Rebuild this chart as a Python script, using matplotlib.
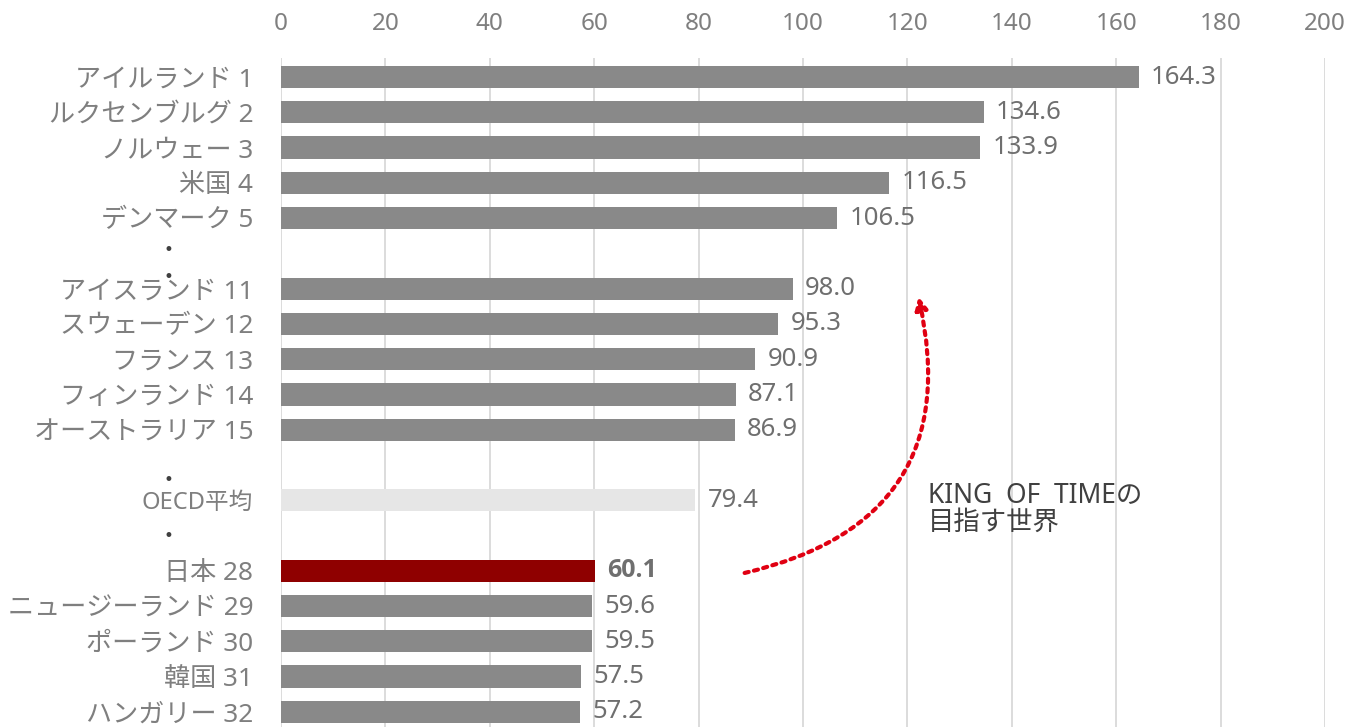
import matplotlib.pyplot as plt
from matplotlib.patches import FancyArrowPatch
import matplotlib.transforms as mtransforms

plt.rcParams['font.family'] = ['Noto Sans', 'Noto Sans CJK JP', 'DejaVu Sans']

# rows from top; None = spacer row
labels = ['アイルランド 1', 'ルクセンブルグ 2', 'ノルウェー 3', '米国 4', 'デンマーク 5',
          None,
          'アイスランド 11', 'スウェーデン 12', 'フランス 13', 'フィンランド 14', 'オーストラリア 15',
          None,
          'OECD平均',
          None,
          '日本 28', 'ニュージーランド 29', 'ポーランド 30', '韓国 31', 'ハンガリー 32']
values = [164.3, 134.6, 133.9, 116.5, 106.5,
          None,
          98.0, 95.3, 90.9, 87.1, 86.9,
          None,
          79.4,
          None,
          60.1, 59.6, 59.5, 57.5, 57.2]
xticks = [0, 20, 40, 60, 80, 100, 120, 140, 160, 180, 200]
dot_rows = [4.9, 5.67, 11.42, 13.0]

fig = plt.figure(figsize=(13.48, 7.27), dpi=100)
ax = fig.add_axes([281 / 1348, 0, 1044 / 1348, (727 - 58) / 727])

for i, (lab, v) in enumerate(zip(labels, values)):
    if v is None:
        continue
    if lab.startswith('OECD'):
        c = '#e6e6e6'
    elif lab.startswith('日本'):
        c = '#8f0000'
    else:
        c = '#898989'
    ax.barh(i, v, height=0.63, color=c, zorder=2)
    if lab.startswith('日本'):
        ax.annotate(f'{v:.1f}', (v, i), xytext=(9, 0), textcoords='offset points',
                    va='center', ha='left', fontsize=18, color='#6f6f6f',
                    fontweight='bold', family=['Open Sans', 'DejaVu Sans'])
    else:
        ax.annotate(f'{v:.1f}', (v, i), xytext=(9, 0), textcoords='offset points',
                    va='center', ha='left', fontsize=18.5, color='#6f6f6f')

ticks = [i for i, v in enumerate(values) if v is not None]
ax.set_yticks(ticks)
ax.set_yticklabels([labels[i] for i in ticks], fontsize=18.8, color='#7f7f7f')
for t in ax.get_yticklabels():
    if t.get_text().startswith('OECD'):
        t.set_fontsize(17)

ax.set_xlim(0, 200)
ax.set_ylim(18.43, -0.54)
ax.set_xticks(xticks)
ax.xaxis.tick_top()
ax.tick_params(axis='x', length=0, pad=16, labelsize=17.5, labelcolor='#7f7f7f')
ax.tick_params(axis='y', length=0, pad=20)
ax.grid(axis='x', color='#d9d9d9', linewidth=1.3, zorder=0)
ax.set_axisbelow(True)
for s in ax.spines.values():
    s.set_visible(False)

trans = mtransforms.blended_transform_factory(ax.transAxes, ax.transData)
for r in dot_rows:
    ax.text(-0.108, r, '•', transform=trans, ha='center', va='center',
            fontsize=12, color='#404040', family='DejaVu Sans')

ax.text(124, 12.25, 'KING  OF  TIMEの\n目指す世界', ha='left', va='center',
        fontsize=19, color='#404040', linespacing=1.0)

arrow = FancyArrowPatch((88.3, 14.08), (122.0, 6.15),
                        connectionstyle='arc3,rad=0.5', arrowstyle='-|>',
                        mutation_scale=18, linestyle=(0, (1, 1.3)), linewidth=3,
                        color='#e00012', zorder=5)
ax.add_patch(arrow)

fig.savefig('out.png', dpi=100)
